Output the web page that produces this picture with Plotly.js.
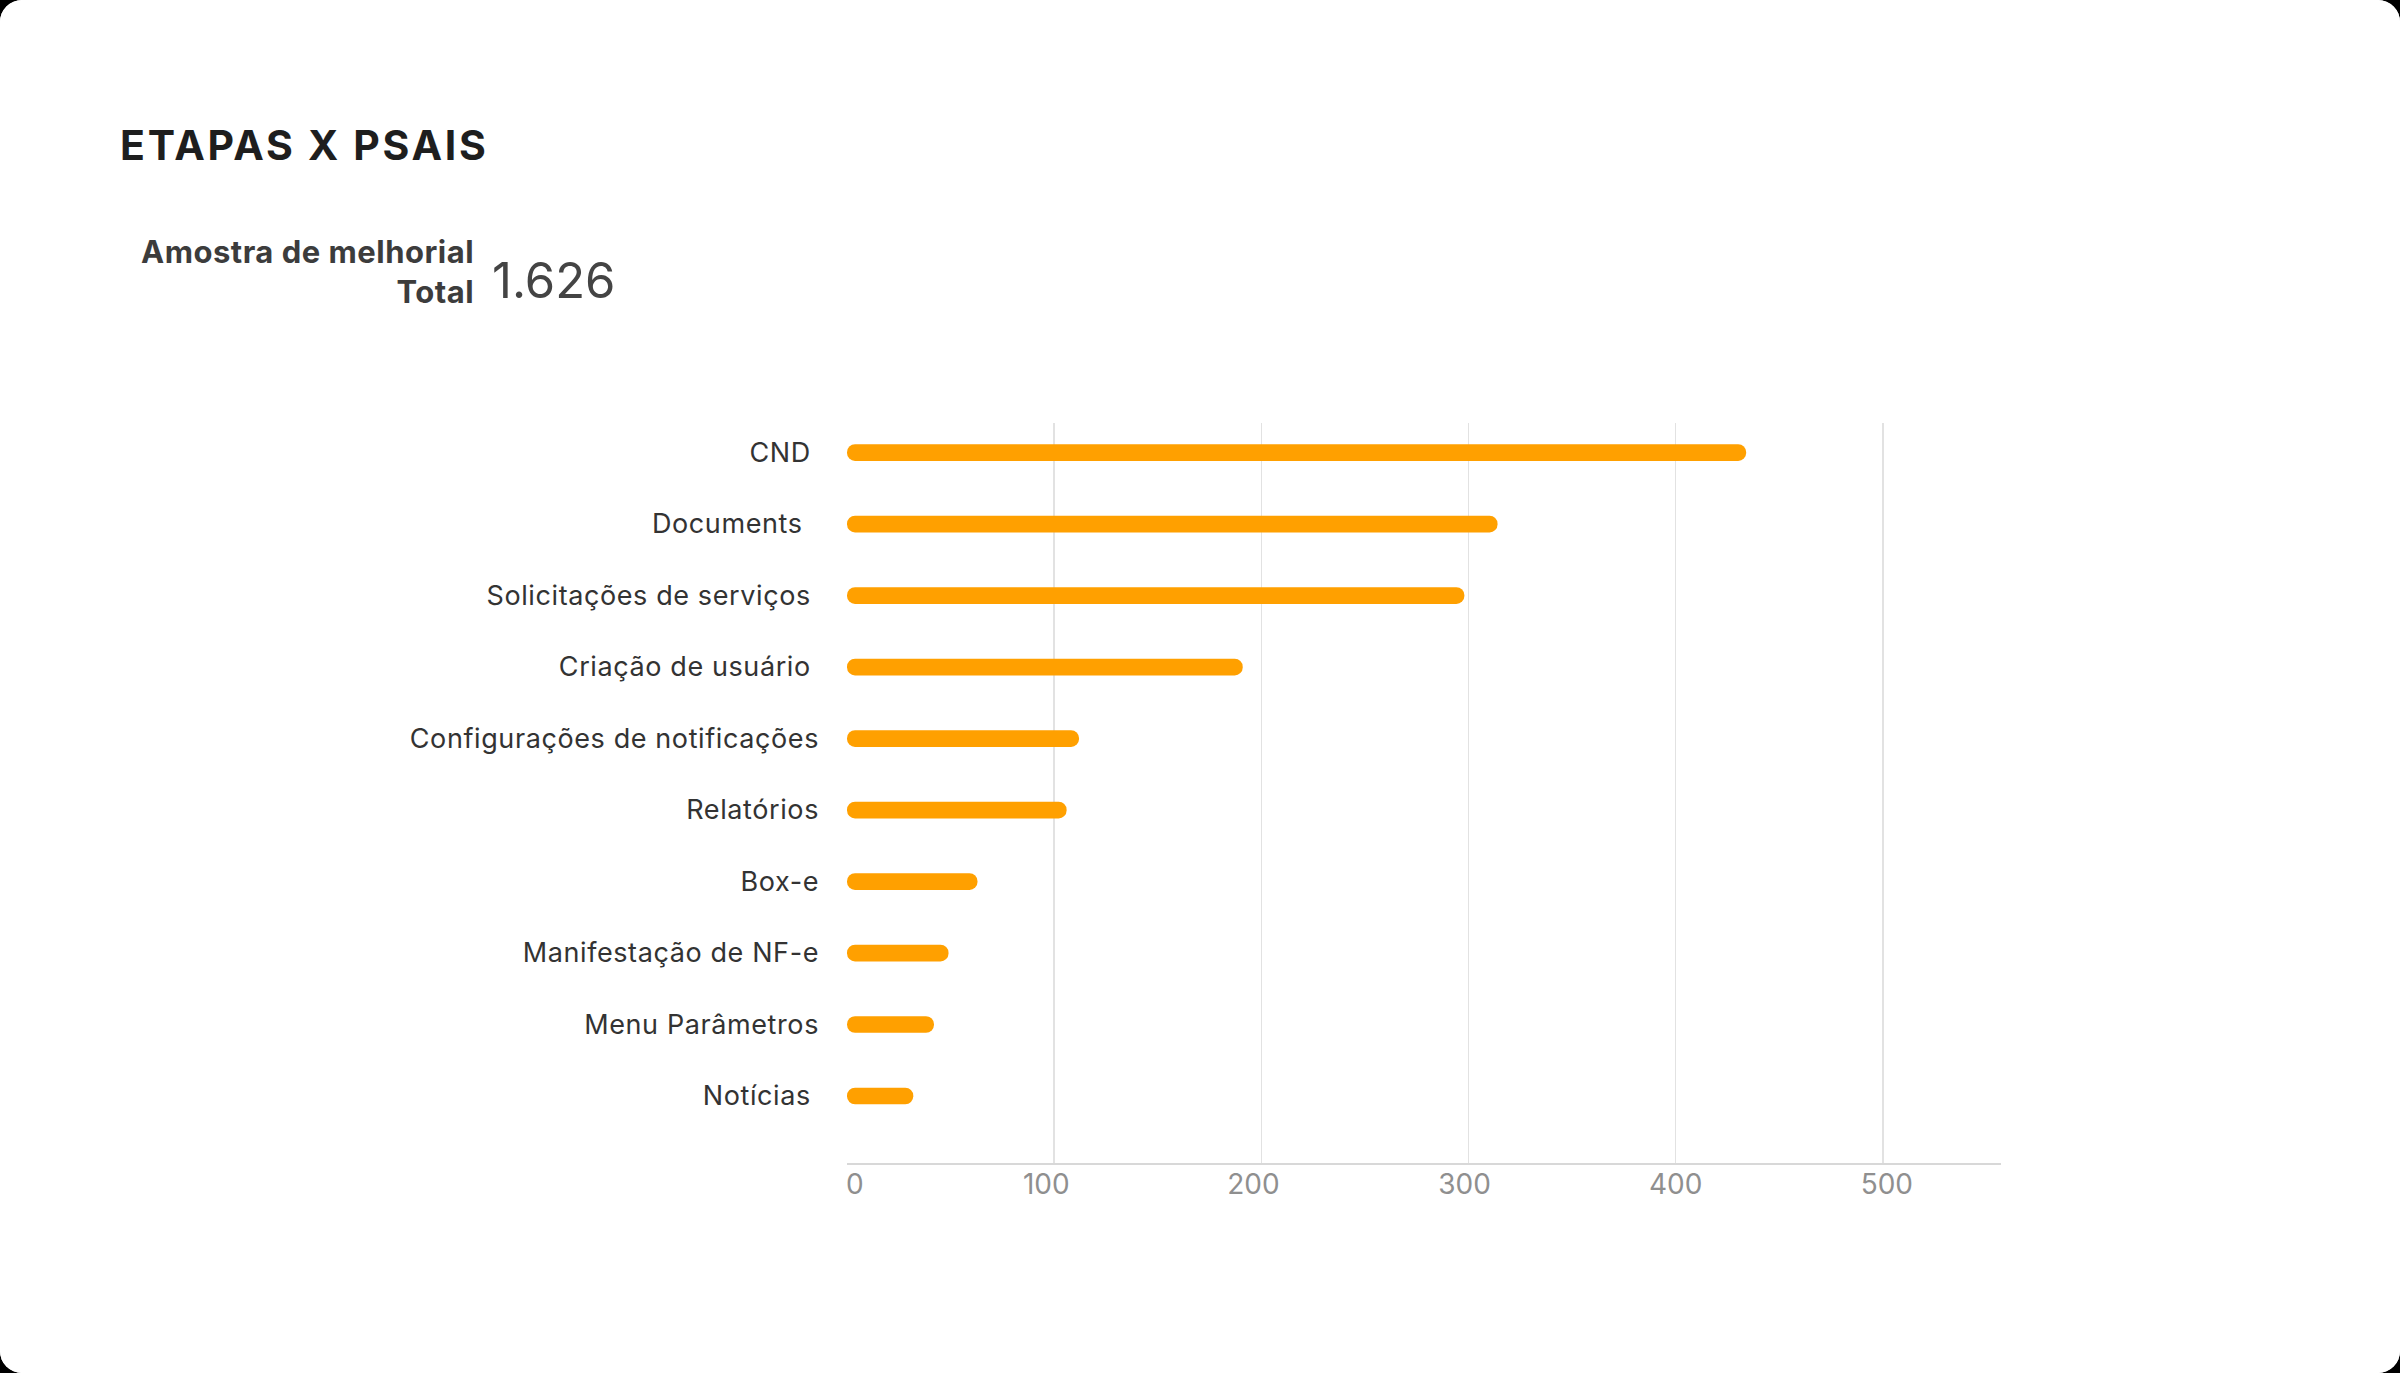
<!DOCTYPE html>
<html>
<head>
<meta charset="utf-8">
<script src="https://cdn.plot.ly/plotly-3.0.1.min.js"></script>
<style>
  html, body { margin: 0; padding: 0; background: #000; }
  #chart { width: 2400px; height: 1373px; border-radius: 22px; overflow: hidden; background: #fff; }
  #chart .annotation[data-index="0"] text { letter-spacing: 2.7px; }
  #chart .annotation[data-index="1"] text { letter-spacing: 0.5px; }
  #chart .ytick text { letter-spacing: 0.6px; }
</style>
</head>
<body>
<div id="chart"></div>
<script>
// ---- data ----
const categories = [
  "CND",
  "Documents",
  "Solicitações de serviços",
  "Criação de usuário",
  "Configurações de notificações",
  "Relatórios",
  "Box-e",
  "Manifestação de NF-e",
  "Menu Parâmetros",
  "Notícias"
];
const values = [434, 314, 298, 191, 112, 106, 63, 49, 42, 32];
const tickLabels = [
  "CND\u00a0",
  "Documents\u00a0\u00a0",
  "Solicitações de serviços\u00a0",
  "Criação de usuário\u00a0",
  "Configurações de notificações",
  "Relatórios",
  "Box-e",
  "Manifestação de NF-e",
  "Menu Parâmetros",
  "Notícias\u00a0"
];
const xTickVals = [0, 100, 200, 300, 400, 500];
const xTickLabels = [
  "\u00a0\u00a00",
  "100\u00a0\u00a0",
  "200\u00a0\u00a0",
  "300\u00a0",
  "400",
  "\u00a0500"
];
const chartTitle = "ETAPAS X PSAIS";
const kpiLabel = "Amostra de melhorial<br>Total";
const kpiValue = "1.626";

// ---- layout helpers (pixel -> paper) ----
const W = 2400, H = 1373;
const M = { l: 847, r: 399, t: 423, b: 210 };
const pw = W - M.l - M.r, ph = H - M.t - M.b;
const px = x => (x - M.l) / pw;
const py = y => (H - M.b - y) / ph;

// explicit zero base => Plotly rounds both ends of each bar (pill shape)
const trace = {
  type: "bar",
  orientation: "h",
  y: categories,
  x: values,
  base: categories.map(() => 0),
  hovertemplate: "%{y}: %{x}<extra></extra>",
  marker: { color: "#FFA000", cornerradius: "50%", line: { width: 0 } }
};

const font = "Inter, 'Noto Sans', sans-serif";

const layout = {
  width: W, height: H,
  margin: M,
  paper_bgcolor: "#ffffff",
  plot_bgcolor: "#ffffff",
  showlegend: false,
  bargap: 0.766,
  font: { family: font },
  xaxis: {
    range: [0, 557],
    tickvals: xTickVals,
    ticktext: xTickLabels,
    showgrid: true,
    gridcolor: "#e2e2e2",
    gridwidth: 1.5,
    zeroline: false,
    showline: true,
    linecolor: "#d8d8d8",
    linewidth: 2,
    ticks: "",
    ticklabelstandoff: -5,
    tickfont: { family: font, size: 28, color: "#8f8f8f" },
    fixedrange: true
  },
  yaxis: {
    type: "category",
    categoryorder: "array",
    categoryarray: categories,
    tickvals: categories,
    ticktext: tickLabels,
    range: [9.937, -0.413],
    showgrid: false,
    zeroline: false,
    showline: false,
    ticks: "",
    ticklabelstandoff: 27,
    tickfont: { family: font, size: 27, color: "#333333" },
    fixedrange: true
  },
  annotations: [
    {
      text: "<b>" + chartTitle + "</b>",
      xref: "paper", yref: "paper",
      x: px(137), y: py(145),
      xanchor: "left", yanchor: "middle",
      showarrow: false,
      font: { family: font, size: 41, color: "#1e1e1e" }
    },
    {
      text: kpiLabel,
      xref: "paper", yref: "paper",
      x: px(476), y: py(271),
      xanchor: "right", yanchor: "middle",
      align: "right",
      showarrow: false,
      font: { family: font, size: 31, color: "#3c3c3c", weight: 700 }
    },
    {
      text: kpiValue,
      xref: "paper", yref: "paper",
      x: px(490), y: py(280),
      xanchor: "left", yanchor: "middle",
      showarrow: false,
      font: { family: font, size: 49, color: "#444444", weight: 400 }
    }
  ]
};

Plotly.newPlot("chart", [trace], layout, { displayModeBar: false, staticPlot: true });
</script>
</body>
</html>
